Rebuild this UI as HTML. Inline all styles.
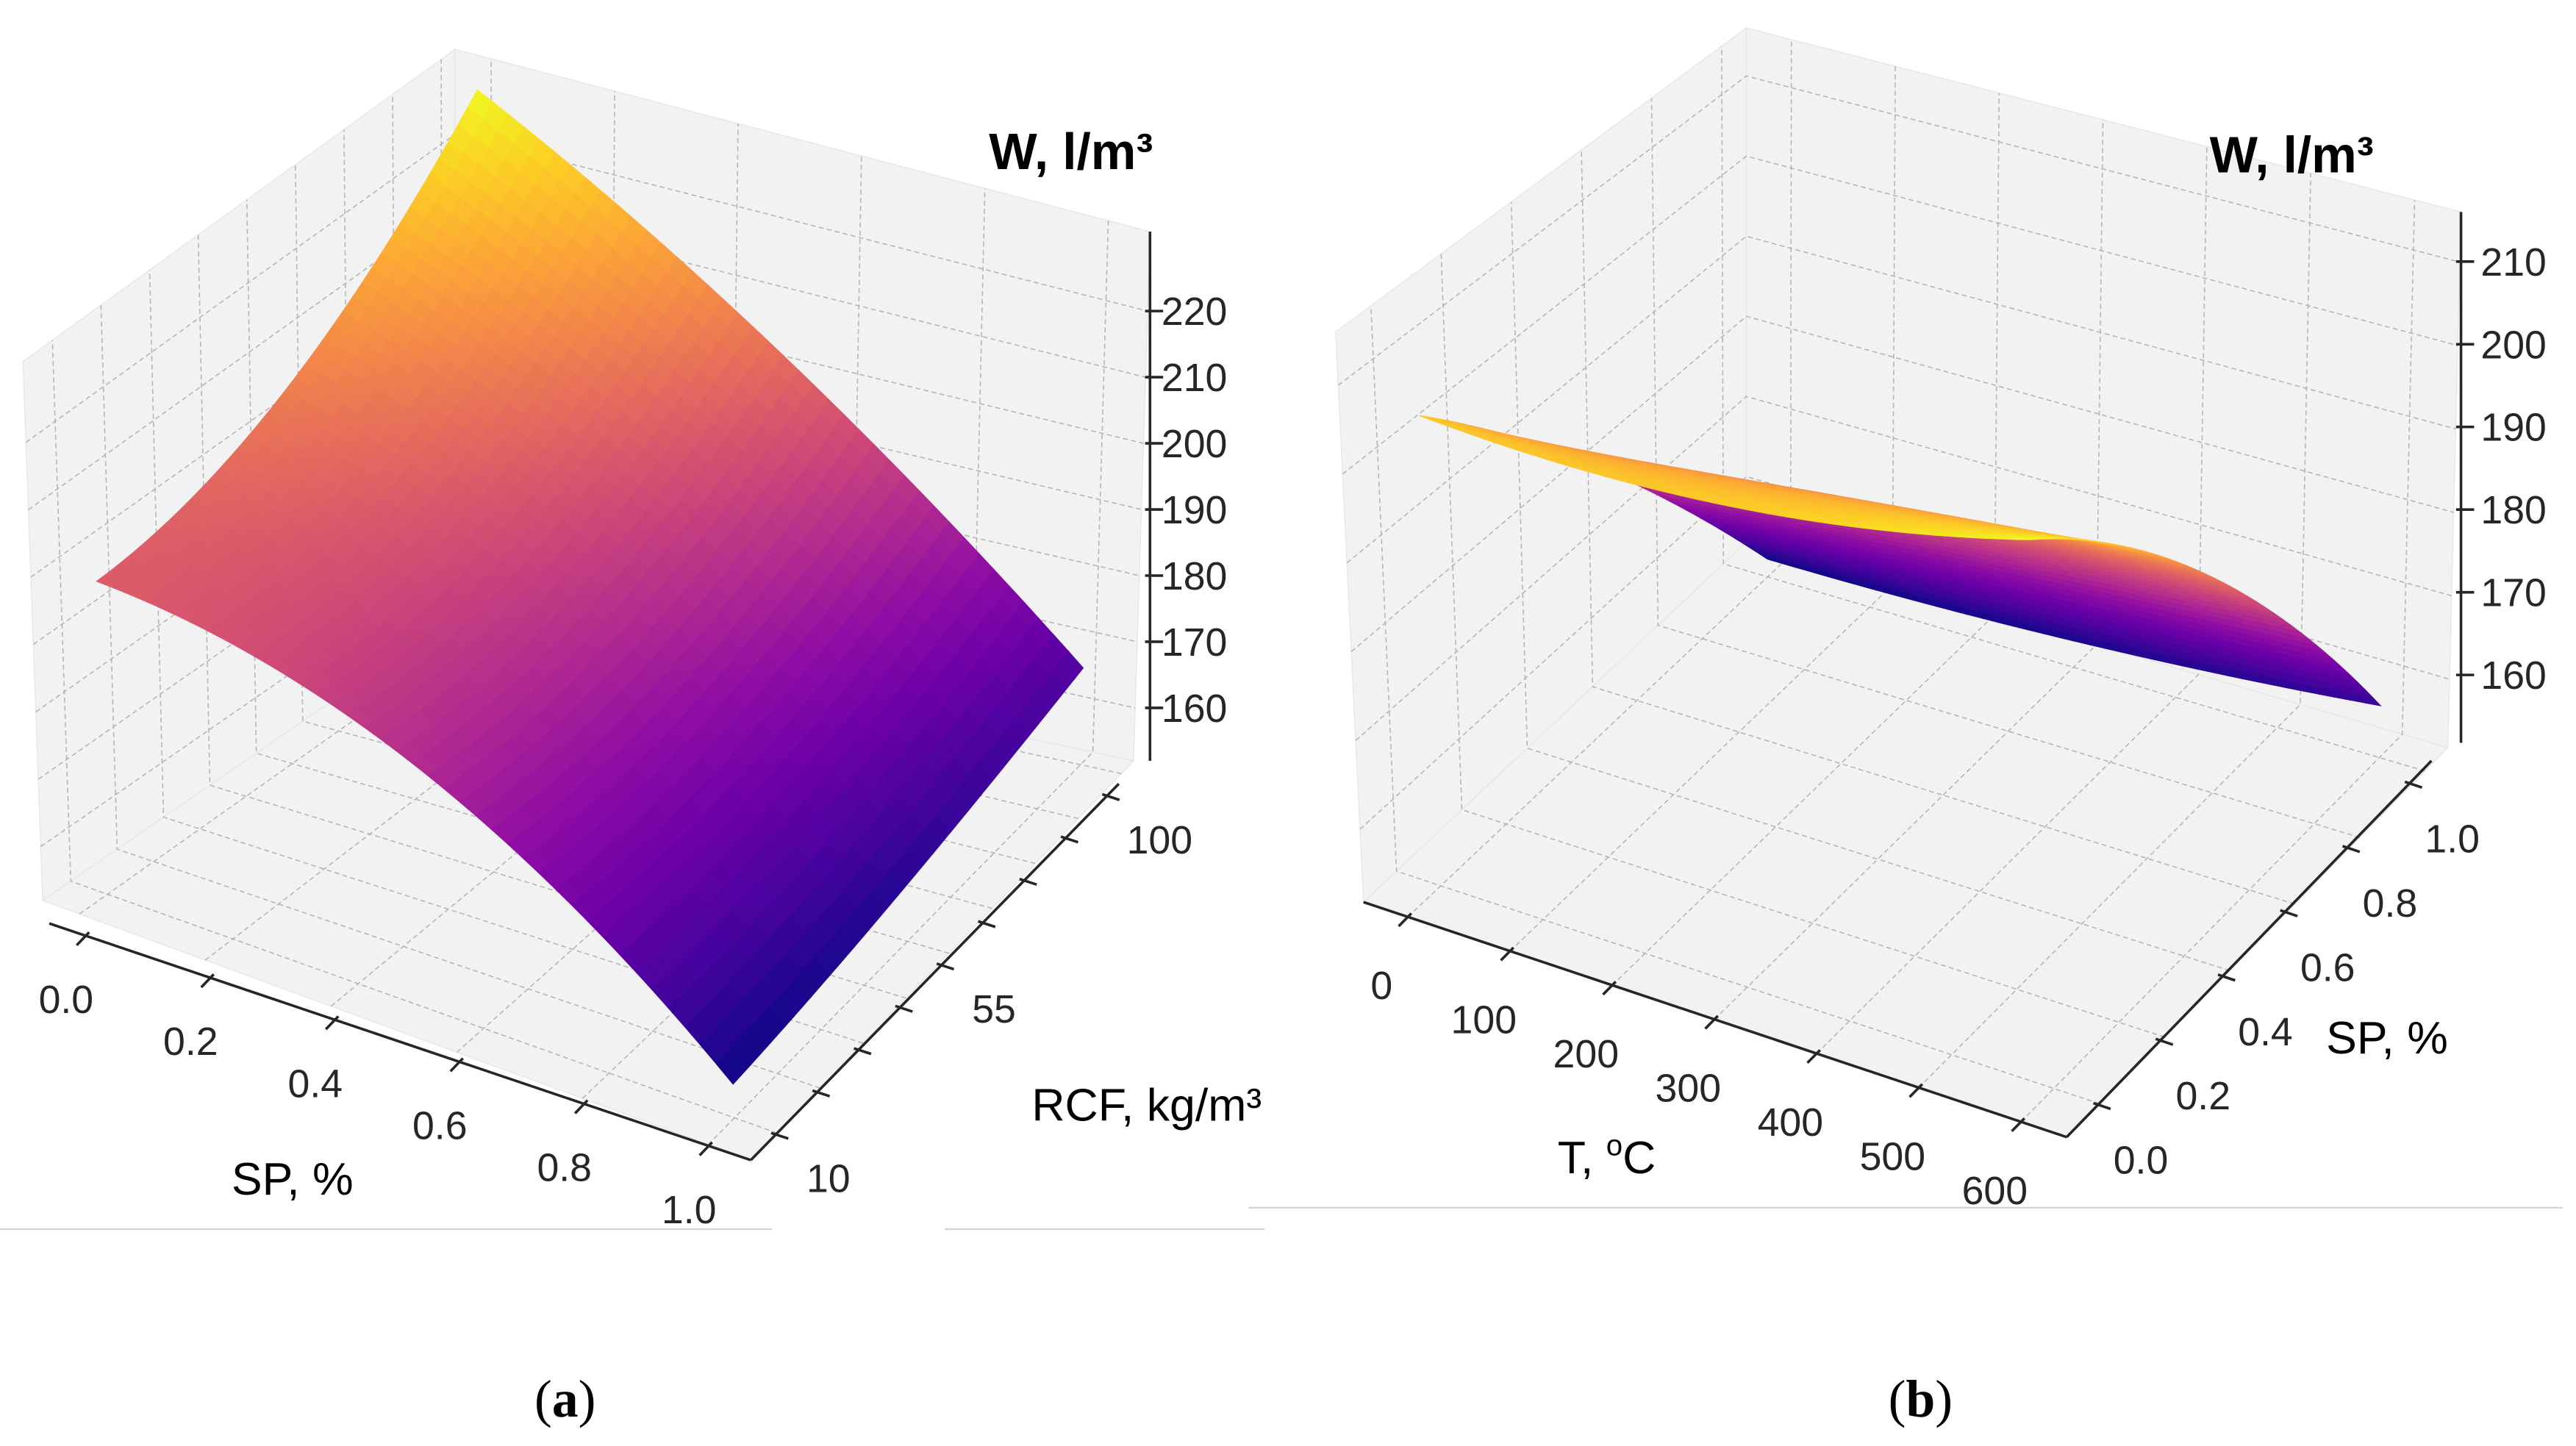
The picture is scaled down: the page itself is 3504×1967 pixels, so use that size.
<!DOCTYPE html>
<html><head><meta charset="utf-8"><style>
html,body{margin:0;padding:0;background:#fff;}
svg{display:block;}
text{font-family:"Liberation Sans",sans-serif;}
</style></head><body>
<svg id="chart" xmlns="http://www.w3.org/2000/svg" width="3504" height="1967" viewBox="0 0 1568 880" preserveAspectRatio="none">
<g id="panelA"></g>
<g id="panelB"></g>
<line x1="0" y1="748" x2="470" y2="748" stroke="#d4d4d4" stroke-width="1"/>
<line x1="575" y1="748" x2="770" y2="748" stroke="#d4d4d4" stroke-width="1"/>
<line x1="760" y1="735" x2="1560" y2="735" stroke="#d4d4d4" stroke-width="1"/>
<text x="344" y="862" text-anchor="middle" font-size="32" style="font-family:'Liberation Serif',serif">(<tspan font-weight="bold">a</tspan>)</text>
<text x="1169" y="862" text-anchor="middle" font-size="32" style="font-family:'Liberation Serif',serif">(<tspan font-weight="bold">b</tspan>)</text>
</svg>
<script>
// ---------- Panel (a) data ----------
const spTicksA = [0, 0.2, 0.4, 0.6, 0.8, 1.0];
const spLabelsA = ["0.0", "0.2", "0.4", "0.6", "0.8", "1.0"];
const rcfTickMarksA = [10, 21.25, 32.5, 43.75, 55, 66.25, 77.5, 88.75, 100];
const rcfLabelValsA = [10, 55, 100];
const rcfLabelsA = ["10", "55", "100"];
const zTicksA = [160, 170, 180, 190, 200, 210, 220];
const zLabelsA = ["160", "170", "180", "190", "200", "210", "220"];
const spGridA = [0, 0.5, 1];
const rcfGridA = [10, 55, 100];
// W values: rows = SP (0, 0.5, 1), cols = RCF (10, 55, 100)
const wA_sp0 = [198, 206, 229];
const wA_sp05 = [186, 188, 202];
const wA_sp1 = [156.5, 160, 166.5];

// ---------- Panel (b) data ----------
const tTicksB = [0, 100, 200, 300, 400, 500, 600];
const tLabelsB = ["0", "100", "200", "300", "400", "500", "600"];
const spTicksB = [0, 0.2, 0.4, 0.6, 0.8, 1.0];
const spLabelsB = ["0.0", "0.2", "0.4", "0.6", "0.8", "1.0"];
const zTicksB = [160, 170, 180, 190, 200, 210];
const zLabelsB = ["160", "170", "180", "190", "200", "210"];
const tGridB = [0, 300, 600];
const spGridB = [0, 0.5, 1];
// W values: rows = T (0, 300, 600), cols = SP (0, 0.5, 1)
const wB_t0 = [205, 183, 154];
const wB_t300 = [205, 188, 155];
const wB_t600 = [211, 191, 158];

const NS = "http://www.w3.org/2000/svg";
const plasma = ["#0d0887","#41049d","#6a00a8","#8f0da4","#b12a90","#cc4778","#e16462","#f2844b","#fca636","#fcce25","#f0f921"];
function hex(h){return [parseInt(h.substr(1,2),16),parseInt(h.substr(3,2),16),parseInt(h.substr(5,2),16)];}
function cmap(t){t=Math.max(0,Math.min(1,t));const p=t*10;const i=Math.min(9,Math.floor(p));const f=p-i;const a=hex(plasma[i]),b=hex(plasma[i+1]);
  const c=a.map((x,k)=>Math.round(x+(b[k]-x)*f));return "rgb("+c.join(",")+")";}
function el(tag, attrs, parent){const e=document.createElementNS(NS,tag);for(const k in attrs)e.setAttribute(k,attrs[k]);parent.appendChild(e);return e;}
function mkProj(Lb,Fb,Rb,Bb,Lt,Ft,Rt,Bt){
  return function(u,v,f){const w=[(1-u)*(1-v),u*(1-v),u*v,(1-u)*v];
    const bx=w[0]*Lb[0]+w[1]*Fb[0]+w[2]*Rb[0]+w[3]*Bb[0], by=w[0]*Lb[1]+w[1]*Fb[1]+w[2]*Rb[1]+w[3]*Bb[1];
    const tx=w[0]*Lt[0]+w[1]*Ft[0]+w[2]*Rt[0]+w[3]*Bt[0], ty=w[0]*Lt[1]+w[1]*Ft[1]+w[2]*Rt[1]+w[3]*Bt[1];
    return [bx+(tx-bx)*f, by+(ty-by)*f];};
}
function lag(vals, s){
  const l0=2*(s-0.5)*(s-1), l1=-4*s*(s-1), l2=2*s*(s-0.5);
  return vals[0]*l0+vals[1]*l1+vals[2]*l2;}
function interpGrid(rows, a, b){ return lag(rows.map(r=>lag(r,b)), a); }
function pts(arr){return arr.map(p=>p[0].toFixed(2)+","+p[1].toFixed(2)).join(" ");}

function drawPanel(g, cfg){
  const P = cfg.proj;
  const pane = {fill:"#f2f2f2", stroke:"#e6e6e6", "stroke-width":"0.6"};
  const lw = el("polygon", Object.assign({points:pts([P(0,0,0),P(0,1,0),P(0,1,1),P(0,0,1)])},pane), g);
  
  
  const bw = el("polygon", Object.assign({points:pts([P(0,1,0),P(1,1,0),P(1,1,1),P(0,1,1)])},pane), g);
  
  
  const fl = el("polygon", Object.assign({points:pts([P(0,0,0),P(1,0,0),P(1,1,0),P(0,1,0)])},pane), g);
  
  
  const grid = el("g", {stroke:"#b4b4b4","stroke-width":"0.7","stroke-dasharray":"3,2",fill:"none"}, g);
  
  
  cfg.uTicks.forEach(t=>{const u=cfg.uf(t);
    el("polyline",{points:pts([P(u,0,0),P(u,1,0),P(u,1,1)])},grid);});
  cfg.vTicks.forEach(t=>{const v=cfg.vf(t);
    el("polyline",{points:pts([P(1,v,0),P(0,v,0),P(0,v,1)])},grid);});
  cfg.zTicks.forEach(t=>{const f=cfg.zf(t);
    el("polyline",{points:pts([P(0,0,f),P(0,1,f),P(1,1,f)])},grid);});
  const surf = el("g", {}, g);
  
  
  const N=40, quads=[]; let wmin=1e9,wmax=-1e9; const W=[];
  for(let i=0;i<=N;i++){W.push([]);for(let j=0;j<=N;j++){const w=interpGrid(cfg.grid,i/N,j/N);W[i].push(w);wmin=Math.min(wmin,w);wmax=Math.max(wmax,w);}}
  const pt=(i,j)=>P(cfg.uf(cfg.aMin+(cfg.aMax-cfg.aMin)*i/N), cfg.vf(cfg.bMin+(cfg.bMax-cfg.bMin)*j/N), cfg.zf(W[i][j]));
  for(let i=0;i<N;i++)for(let j=0;j<N;j++){
    const wc=(W[i][j]+W[i+1][j]+W[i][j+1]+W[i+1][j+1])/4;
    quads.push({i,j,wc,key:(i+0.5)/N+(1-(j+0.5)/N)});}
  quads.sort((a,b)=>a.key-b.key);
  quads.forEach(q=>{const c=cmap((q.wc-wmin)/(wmax-wmin));
    el("polygon",{points:pts([pt(q.i,q.j),pt(q.i+1,q.j),pt(q.i+1,q.j+1),pt(q.i,q.j+1)]),fill:c,stroke:c,"stroke-width":"0.6"},surf);});
  const ax = el("g", {stroke:"#262626","stroke-width":"1.6",fill:"none"}, g);
  
  
  const A=cfg.axU, B=cfg.axV, Z=cfg.axZ;
  el("line",{x1:A[0][0],y1:A[0][1],x2:A[1][0],y2:A[1][1]},ax);
  el("line",{x1:B[0][0],y1:B[0][1],x2:B[1][0],y2:B[1][1]},ax);
  el("line",{x1:Z[0][0],y1:Z[0][1],x2:Z[1][0],y2:Z[1][1]},ax);
  const lerp=(S,f)=>[S[0][0]+(S[1][0]-S[0][0])*f, S[0][1]+(S[1][1]-S[0][1])*f];
  cfg.uTicks.forEach(t=>{const p=lerp(A,cfg.uf(t));el("line",{x1:p[0]+cfg.uOut[0]*-3,y1:p[1]+cfg.uOut[1]*-3,x2:p[0]+cfg.uOut[0]*8,y2:p[1]+cfg.uOut[1]*8},ax);});
  cfg.vTicks.forEach(t=>{const p=lerp(B,cfg.vf(t));el("line",{x1:p[0]+cfg.vOut[0]*-3,y1:p[1]+cfg.vOut[1]*-3,x2:p[0]+cfg.vOut[0]*8,y2:p[1]+cfg.vOut[1]*8},ax);});
  cfg.zTicks.forEach(t=>{const p=lerp(Z,cfg.zf(t));el("line",{x1:p[0]-3,y1:p[1],x2:p[0]+8,y2:p[1]},ax);});
  const lab = el("g", {fill:"#262626","font-size":"24"}, g);
  
  
  cfg.uLabelVals.forEach((t,k)=>{const p=lerp(A,cfg.uf(t));const e=el("text",{x:p[0]+cfg.uLab[0],y:p[1]+cfg.uLab[1],"text-anchor":"middle"},lab);e.textContent=cfg.uLabels[k];});
  cfg.vLabelVals.forEach((t,k)=>{const p=lerp(B,cfg.vf(t));const e=el("text",{x:p[0]+cfg.vLab[0],y:p[1]+cfg.vLab[1],"text-anchor":"middle"},lab);e.textContent=cfg.vLabels[k];});
  cfg.zTicks.forEach((t,k)=>{const p=lerp(Z,cfg.zf(t));const e=el("text",{x:cfg.zLabX,y:p[1]+8.5,"text-anchor":"start"},lab);e.textContent=cfg.zLabels[k];});
}

const projA = mkProj([26,548],[457,706],[690,463],[277,375],[14,220],[440,335],[700,141],[277,30]);
drawPanel(document.getElementById("panelA"), {
  proj: projA,
  uf: s=>0.052+0.888*s, vf: r=>0.068+0.9*(r-10)/90, zf: w=>(w-152)/80,
  uTicks: spTicksA, vTicks: rcfTickMarksA, zTicks: zTicksA,
  grid: [wA_sp0, wA_sp05, wA_sp1], aMin: spGridA[0], aMax: spGridA[2], bMin: rcfGridA[0], bMax: rcfGridA[2],
  axU: [[30,562],[457,706]], axV: [[457,706],[681,477]], axZ: [[700,463],[700,141]],
  uOut: [-0.69,0.72], vOut: [0.95,0.31],
  uLabelVals: spTicksA, uLabels: spLabelsA, uLab: [-12,47],
  vLabelVals: rcfLabelValsA, vLabels: rcfLabelsA, vLab: [32,35],
  zLabels: zLabelsA, zLabX: 707
});
const projB = mkProj([830,549],[1258,692],[1490,455],[1063,330],[813,202],[1240,325],[1498,129],[1063,17]);
drawPanel(document.getElementById("panelB"), {
  proj: projB,
  uf: t=>0.063+0.872*t/600, vf: s=>0.086+0.854*s, zf: w=>(w-151.8)/64.2,
  uTicks: tTicksB, vTicks: spTicksB, zTicks: zTicksB,
  grid: [wB_t0, wB_t300, wB_t600], aMin: tGridB[0], aMax: tGridB[2], bMin: spGridB[0], bMax: spGridB[2],
  axU: [[830,549],[1258,692]], axV: [[1258,692],[1480,463]], axZ: [[1498,452],[1498,129]],
  uOut: [-0.7,0.71], vOut: [0.95,0.32],
  uLabelVals: tTicksB, uLabels: tLabelsB, uLab: [-16,50],
  vLabelVals: spTicksB, vLabels: spLabelsB, vLab: [26,42],
  zLabels: zLabelsB, zLabX: 1510
});
</script>
<svg style="position:absolute;left:0;top:0" width="3504" height="1967" viewBox="0 0 1568 880" preserveAspectRatio="none">
<text x="602" y="103" font-size="31" font-weight="bold" fill="#000">W, l/m³</text>
<text x="178" y="727" text-anchor="middle" font-size="28" fill="#000">SP, %</text>
<text x="628" y="682" font-size="28" fill="#000">RCF, kg/m³</text>
<text x="1345" y="105" font-size="31" font-weight="bold" fill="#000">W, l/m³</text>
<text x="978" y="714" text-anchor="middle" font-size="28" fill="#000">T, <tspan font-size="18" dy="-11">o</tspan><tspan dy="11">C</tspan></text>
<text x="1453" y="641" text-anchor="middle" font-size="28" fill="#000">SP, %</text>
</svg>
</body></html>
